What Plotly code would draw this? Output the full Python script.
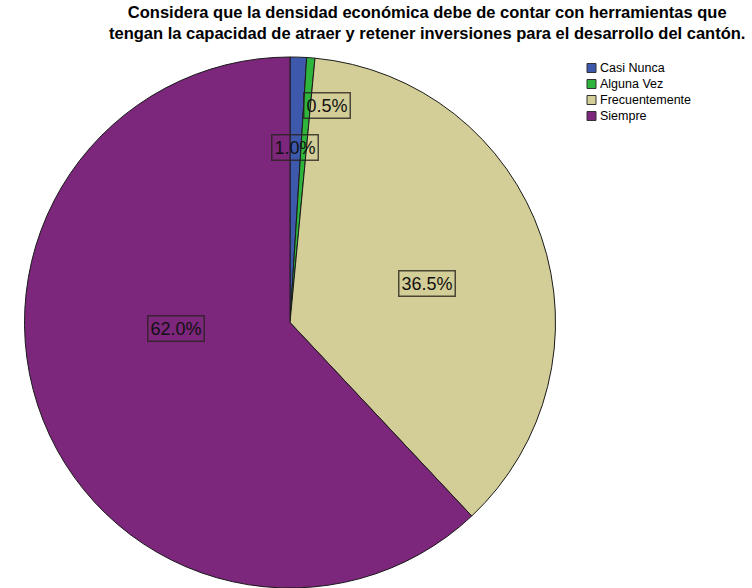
import plotly.graph_objects as go

W, H = 752, 588

categories = ["Casi Nunca", "Alguna Vez", "Frecuentemente", "Siempre"]
percentages = [1.0, 0.5, 36.5, 62.0]
colors = ["#3e58ac", "#2fb43c", "#d3ce97", "#7c267c"]

title_lines = [
    "Considera que la densidad económica debe de contar con herramientas que",
    "tengan la capacidad de atraer y retener inversiones para el desarrollo del cantón.",
]

# label box centres (pixels) for each slice
label_px = [(295, 147), (327, 105), (427, 283), (176, 328)]


def px_x(x):
    return x / W


def px_y(y):
    return 1 - y / H


fig = go.Figure()
fig.add_trace(go.Pie(
    labels=categories,
    values=percentages,
    sort=False,
    direction="clockwise",
    rotation=0,
    marker=dict(colors=colors, line=dict(color="#1a1a1a", width=1)),
    textinfo="none",
    hoverinfo="label+percent",
    showlegend=False,
    domain=dict(x=[px_x(22), px_x(558)], y=[0, px_y(57)]),
))

annotations = [dict(
    x=px_x(427), y=px_y(22.5), xref="paper", yref="paper",
    text="<br>".join(f"<b>{line}</b>" for line in title_lines),
    showarrow=False, xanchor="center", yanchor="middle", align="center",
    font=dict(family="Arial", size=16.5, color="#000000"),
)]

for (lx, ly), val in zip(label_px, percentages):
    annotations.append(dict(
        x=px_x(lx), y=px_y(ly), xref="paper", yref="paper",
        text=f"{val:.1f}%", showarrow=False, xanchor="center", yanchor="middle",
        font=dict(family="Arial", size=18, color="#111111"),
        bgcolor="rgba(0,0,0,0)", bordercolor="rgba(40,35,30,0.8)",
        borderwidth=1.5, borderpad=2,
    ))

# legend: small swatches with labels
shapes = []
for i, (cat, col) in enumerate(zip(categories, colors)):
    cy = 68 + 16 * i
    shapes.append(dict(
        type="rect", xref="paper", yref="paper",
        x0=px_x(587), x1=px_x(596), y0=px_y(cy - 4.5), y1=px_y(cy + 4.5),
        fillcolor=col, line=dict(color="#333333", width=1),
    ))
    annotations.append(dict(
        x=px_x(598), y=px_y(cy), xref="paper", yref="paper",
        text=cat, showarrow=False, xanchor="left", yanchor="middle",
        font=dict(family="Arial", size=12.5, color="#000000"),
    ))

fig.update_layout(
    width=W, height=H,
    margin=dict(l=0, r=0, t=0, b=0),
    paper_bgcolor="white", plot_bgcolor="white",
    annotations=annotations, shapes=shapes,
)

fig.write_html("out.html")
